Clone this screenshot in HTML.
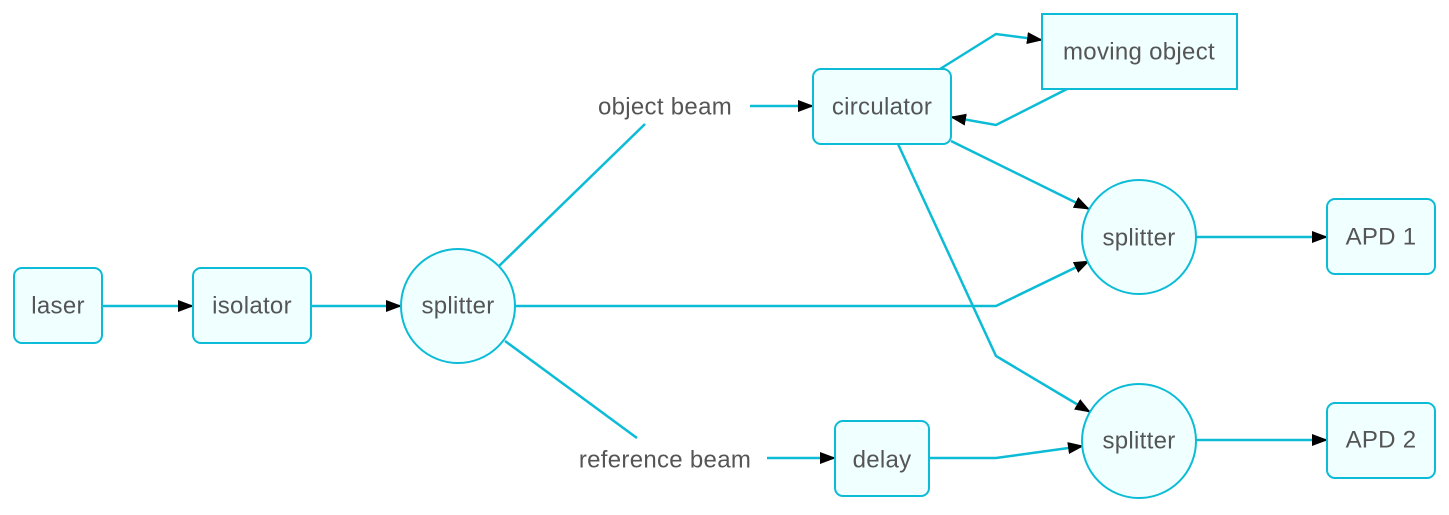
<!DOCTYPE html>
<html><head><meta charset="utf-8"><style>
html,body{margin:0;padding:0;background:#fff;}
svg text{font-family:"Liberation Sans",sans-serif;font-size:24px;letter-spacing:0.3px;fill:#555;text-anchor:middle;dominant-baseline:central;}
</style></head><body>
<svg width="1449" height="510" viewBox="0 0 1449 510" xmlns="http://www.w3.org/2000/svg">
<defs>
<marker id="a" markerWidth="16" markerHeight="12" refX="15" refY="6" orient="auto" markerUnits="userSpaceOnUse">
<path d="M0,0 L16,6 L0,12 Z" fill="#000"/>
</marker>
</defs>
<g fill="none" stroke="#0cbcd6" stroke-width="2.5">
<path d="M102,306 L193,306" marker-end="url(#a)"/>
<path d="M311,306 L401,306" marker-end="url(#a)"/>
<path d="M498,267 L645,124"/>
<path d="M750,106 L813,106" marker-end="url(#a)"/>
<path d="M505,341 L637,438"/>
<path d="M767,458 L835,458" marker-end="url(#a)"/>
<path d="M940,69 L996,34 L1042,40" marker-end="url(#a)"/>
<path d="M1067,89 L996,125 L951,117" marker-end="url(#a)"/>
<path d="M951,141 L1089,209" marker-end="url(#a)"/>
<path d="M898,144 L996,356 L1090,412" marker-end="url(#a)"/>
<path d="M515,306 L996,306 L1089,261" marker-end="url(#a)"/>
<path d="M929,458 L996,458 L1083,446" marker-end="url(#a)"/>
<path d="M1196,237 L1327,237" marker-end="url(#a)"/>
<path d="M1196,440 L1327,440" marker-end="url(#a)"/>
</g>
<g fill="#f0ffff" stroke="#0cbcd6" stroke-width="2">
<rect x="14" y="268" width="88" height="75" rx="8"/>
<rect x="193" y="268" width="118" height="75" rx="8"/>
<circle cx="458" cy="306" r="57"/>
<rect x="813" y="69" width="138" height="75" rx="8"/>
<rect x="1042" y="14" width="195" height="75"/>
<circle cx="1139" cy="237" r="57"/>
<circle cx="1139" cy="441" r="57"/>
<rect x="1327" y="199" width="108" height="75" rx="8"/>
<rect x="1327" y="403" width="108" height="75" rx="8"/>
<rect x="835" y="421" width="94" height="75" rx="8"/>
</g>
<text x="58" y="306">laser</text>
<text x="252" y="306">isolator</text>
<text x="458" y="306">splitter</text>
<text x="665" y="107">object beam</text>
<text x="665" y="460">reference beam</text>
<text x="882" y="107">circulator</text>
<text x="1139" y="52">moving object</text>
<text x="1139" y="238">splitter</text>
<text x="1139" y="441">splitter</text>
<text x="1381" y="237">APD 1</text>
<text x="1381" y="440">APD 2</text>
<text x="882" y="460">delay</text>
</svg>
</body></html>
